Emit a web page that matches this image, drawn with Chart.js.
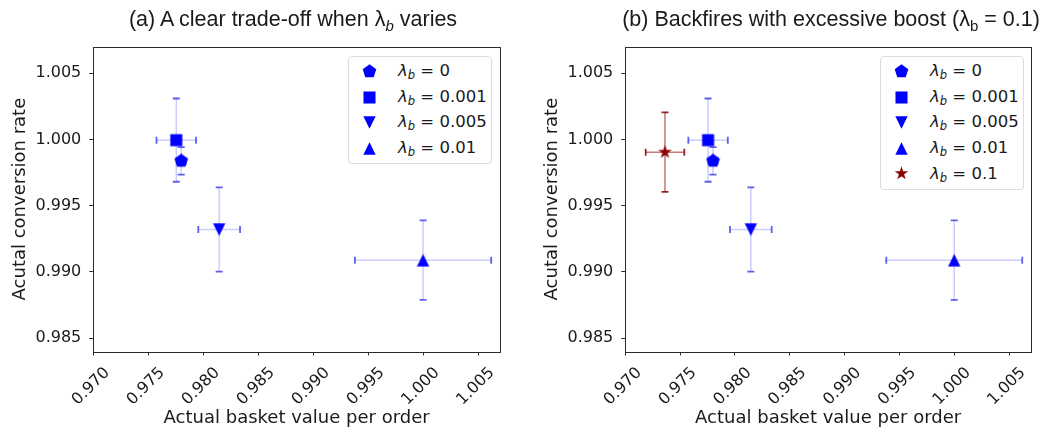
<!DOCTYPE html>
<html>
<head>
<meta charset="utf-8">
<script src="https://cdn.jsdelivr.net/npm/chart.js@4.4.1/dist/chart.umd.min.js"></script>
<style>
html,body{margin:0;padding:0;background:#fff;}
#wrap{position:relative;width:1039px;height:432px;overflow:hidden;}
.pane{position:absolute;top:0;height:432px;}
.title{position:absolute;top:7px;font-family:"Liberation Sans",Arial,sans-serif;font-size:21.5px;line-height:24px;color:#1a1a1a;white-space:nowrap;transform:translateX(-50%);}
.title sub{font-size:70%;vertical-align:-0.3em;line-height:0;}
.legend{position:absolute;top:56px;width:144px;border:1px solid #dcdcdc;border-radius:4px;background:#fff;box-sizing:border-box;font-family:"DejaVu Sans",sans-serif;font-size:16.5px;color:#1a1a1a;}
.row{position:absolute;left:0;width:100%;height:25.6px;}
.row svg{position:absolute;left:13px;top:5.8px;}
.row span.t{position:absolute;left:49px;top:0;line-height:25.6px;white-space:nowrap;}
.row i{font-style:italic;}
.row sub{font-size:70%;vertical-align:-0.3em;line-height:0;font-style:italic;}
</style>
</head>
<body>
<div id="wrap">
  <div class="pane" style="left:0;width:520px;"><canvas id="c1" width="520" height="432"></canvas></div>
  <div class="pane" style="left:532px;width:507px;"><canvas id="c2" width="507" height="432"></canvas></div>
  <div class="title" style="left:293px;">(a) A clear trade-off when λ<sub><i>b</i></sub> varies</div>
  <div class="title" style="left:831px;">(b) Backfires with excessive boost (λ<sub>b</sub> = 0.1)</div>
  <div class="legend" id="leg1" style="left:348px;height:108px;"></div>
  <div class="legend" id="leg2" style="left:880px;height:134px;"></div>
</div>
<script>
// ---------- data ----------
const lambdaLabels   = ['0', '0.001', '0.005', '0.01', '0.1'];
const basketValue    = [0.97800, 0.97755, 0.98145, 1.00000, 0.97362];
const basketErr      = [0.00040, 0.00180, 0.00190, 0.00620, 0.00176];
const conversionRate = [0.99838, 0.99995, 0.99320, 0.99089, 0.99904];
const conversionErr  = [0.00104, 0.00314, 0.00318, 0.00300, 0.00300];
const xTicks = [0.970, 0.975, 0.980, 0.985, 0.990, 0.995, 1.000, 1.005];
const yTicks = [0.985, 0.990, 0.995, 1.000, 1.005];
const xLimits = [0.970, 1.007];
const yLimits = [0.984, 1.007];
const panelASeries = [0, 1, 2, 3];
const panelBSeries = [0, 1, 2, 3, 4];

// ---------- styles ----------
const markerShapes = ['pentagon', 'square', 'triangleDown', 'triangleUp', 'star'];
const markerColors = ['#0000ff', '#0000ff', '#0000ff', '#0000ff', '#8b0000'];
const errLineColors = ['rgba(0,0,255,0.2)', 'rgba(0,0,255,0.2)', 'rgba(0,0,255,0.2)', 'rgba(0,0,255,0.2)', 'rgba(150,10,10,0.55)'];
const errCapColors  = ['rgba(30,30,230,0.7)', 'rgba(30,30,230,0.7)', 'rgba(30,30,230,0.7)', 'rgba(30,30,230,0.7)', 'rgba(139,0,0,0.85)'];

function shapePath(g, shape, r) {
  g.beginPath();
  if (shape === 'square') {
    const s = r * 0.86; g.rect(-s, -s, 2 * s, 2 * s);
  } else if (shape === 'pentagon') {
    for (let k = 0; k < 5; k++) {
      const a = -Math.PI / 2 + k * 2 * Math.PI / 5;
      const R = r * 1.02;
      k ? g.lineTo(R * Math.cos(a), R * Math.sin(a)) : g.moveTo(R * Math.cos(a), R * Math.sin(a));
    }
  } else if (shape === 'triangleUp') {
    g.moveTo(0, -r * 0.9); g.lineTo(r * 0.88, r * 0.9); g.lineTo(-r * 0.88, r * 0.9);
  } else if (shape === 'triangleDown') {
    g.moveTo(0, r * 0.9); g.lineTo(r * 0.88, -r * 0.9); g.lineTo(-r * 0.88, -r * 0.9);
  } else if (shape === 'star') {
    for (let k = 0; k < 10; k++) {
      const a = -Math.PI / 2 + k * Math.PI / 5;
      const R = (k % 2 ? 0.382 : 1) * r * 1.02;
      k ? g.lineTo(R * Math.cos(a), R * Math.sin(a)) : g.moveTo(R * Math.cos(a), R * Math.sin(a));
    }
  }
  g.closePath();
}
function makeMarker(shape, color) {
  const size = 15, c = document.createElement('canvas');
  c.width = size; c.height = size;
  const g = c.getContext('2d');
  g.translate(size / 2, size / 2);
  g.fillStyle = color;
  shapePath(g, shape, 7);
  g.fill();
  return c;
}
const markerCanvases = markerShapes.map((s, i) => makeMarker(s, markerColors[i]));

// ---------- plugins ----------
const frameAndErrors = {
  id: 'frameAndErrors',
  beforeDatasetsDraw(chart) {
    const {ctx, chartArea: a, scales: {x, y}} = chart;
    ctx.save();
    chart.data.datasets.forEach(ds => {
      const i = ds.seriesIndex;
      const px = x.getPixelForValue(basketValue[i]);
      const py = y.getPixelForValue(conversionRate[i]);
      const xl = x.getPixelForValue(basketValue[i] - basketErr[i]);
      const xr = x.getPixelForValue(basketValue[i] + basketErr[i]);
      const yt = y.getPixelForValue(conversionRate[i] + conversionErr[i]);
      const yb = y.getPixelForValue(conversionRate[i] - conversionErr[i]);
      ctx.strokeStyle = errLineColors[i];
      ctx.lineWidth = 1.5;
      ctx.beginPath();
      ctx.moveTo(xl, py); ctx.lineTo(xr, py);
      ctx.moveTo(px, yt); ctx.lineTo(px, yb);
      ctx.stroke();
      ctx.strokeStyle = errCapColors[i];
      ctx.lineWidth = 1.8;
      ctx.beginPath();
      ctx.moveTo(xl, py - 3.5); ctx.lineTo(xl, py + 3.5);
      ctx.moveTo(xr, py - 3.5); ctx.lineTo(xr, py + 3.5);
      ctx.moveTo(px - 3.5, yt); ctx.lineTo(px + 3.5, yt);
      ctx.moveTo(px - 3.5, yb); ctx.lineTo(px + 3.5, yb);
      ctx.stroke();
    });
    ctx.strokeStyle = '#2a2a2a';
    ctx.lineWidth = 1;
    ctx.strokeRect(Math.round(a.left) + 0.5, Math.round(a.top) + 0.5,
                   Math.round(a.right - a.left), Math.round(a.bottom - a.top));
    ctx.restore();
  }
};

function buildChart(canvasId, series, rightPad) {
  const datasets = series.map(i => ({
    label: 'λb = ' + lambdaLabels[i],
    seriesIndex: i,
    data: [{x: basketValue[i], y: conversionRate[i]}],
    pointStyle: markerCanvases[i],
    pointRadius: 7,
    pointHoverRadius: 7,
    backgroundColor: markerColors[i],
    borderColor: markerColors[i],
    showLine: false
  }));
  const tickFont = {family: 'DejaVu Sans', size: 16};
  const titleFont = {family: 'DejaVu Sans', size: 18};
  return new Chart(document.getElementById(canvasId), {
    type: 'scatter',
    data: {datasets},
    options: {
      responsive: false,
      animation: false,
      devicePixelRatio: 1,
      layout: {padding: {top: 46.7, left: 0, right: rightPad, bottom: 0}},
      plugins: {legend: {display: false}, tooltip: {enabled: false}, title: {display: false}},
      scales: {
        x: {
          type: 'linear', min: xLimits[0], max: xLimits[1],
          afterBuildTicks: s => { s.ticks = xTicks.map(v => ({value: v})); },
          afterFit: s => { s.height = 80.5; s.paddingLeft = 0; s.paddingRight = 0; },
          grid: {display: true, drawOnChartArea: false, drawTicks: true, tickLength: 4, tickColor: '#2a2a2a', tickWidth: 1},
          border: {display: false},
          ticks: {
            autoSkip: false, minRotation: 45, maxRotation: 45, labelOffset: 14, padding: 8,
            font: tickFont, color: '#1a1a1a',
            callback: v => Number(v).toFixed(3)
          },
          title: {display: true, text: 'Actual basket value per order', font: titleFont, color: '#1a1a1a', padding: {top: 0, bottom: 3}}
        },
        y: {
          type: 'linear', min: yLimits[0], max: yLimits[1],
          afterBuildTicks: s => { s.ticks = yTicks.map(v => ({value: v})); },
          afterFit: s => { s.width = 93.3; s.paddingTop = 0; s.paddingBottom = 0; },
          grid: {display: true, drawOnChartArea: false, drawTicks: true, tickLength: 4, tickColor: '#2a2a2a', tickWidth: 1},
          border: {display: false},
          ticks: {
            padding: 8, font: tickFont, color: '#1a1a1a',
            callback: v => Number(v).toFixed(3)
          },
          title: {display: true, text: 'Acutal conversion rate', font: titleFont, color: '#1a1a1a', padding: {top: 10, bottom: 0}}
        }
      }
    },
    plugins: [frameAndErrors]
  });
}

buildChart('c1', panelASeries, 20);
buildChart('c2', panelBSeries, 7);

// ---------- legends (HTML text with sub-scripts) ----------
function buildLegend(id, series) {
  const box = document.getElementById(id);
  series.forEach((i, r) => {
    const row = document.createElement('div');
    row.className = 'row';
    row.style.top = (1.2 + r * 25.6) + 'px';
    const svgNS = 'http://www.w3.org/2000/svg';
    const svg = document.createElementNS(svgNS, 'svg');
    svg.setAttribute('width', '15'); svg.setAttribute('height', '15');
    const cv = markerCanvases[i];
    const img = document.createElementNS(svgNS, 'image');
    img.setAttribute('href', cv.toDataURL());
    img.setAttribute('width', '15'); img.setAttribute('height', '15');
    svg.appendChild(img);
    row.appendChild(svg);
    const t = document.createElement('span');
    t.className = 't';
    t.innerHTML = '<i>λ</i><sub>b</sub> = ' + lambdaLabels[i];
    row.appendChild(t);
    box.appendChild(row);
  });
}
buildLegend('leg1', panelASeries);
buildLegend('leg2', panelBSeries);
</script>
</body>
</html>
